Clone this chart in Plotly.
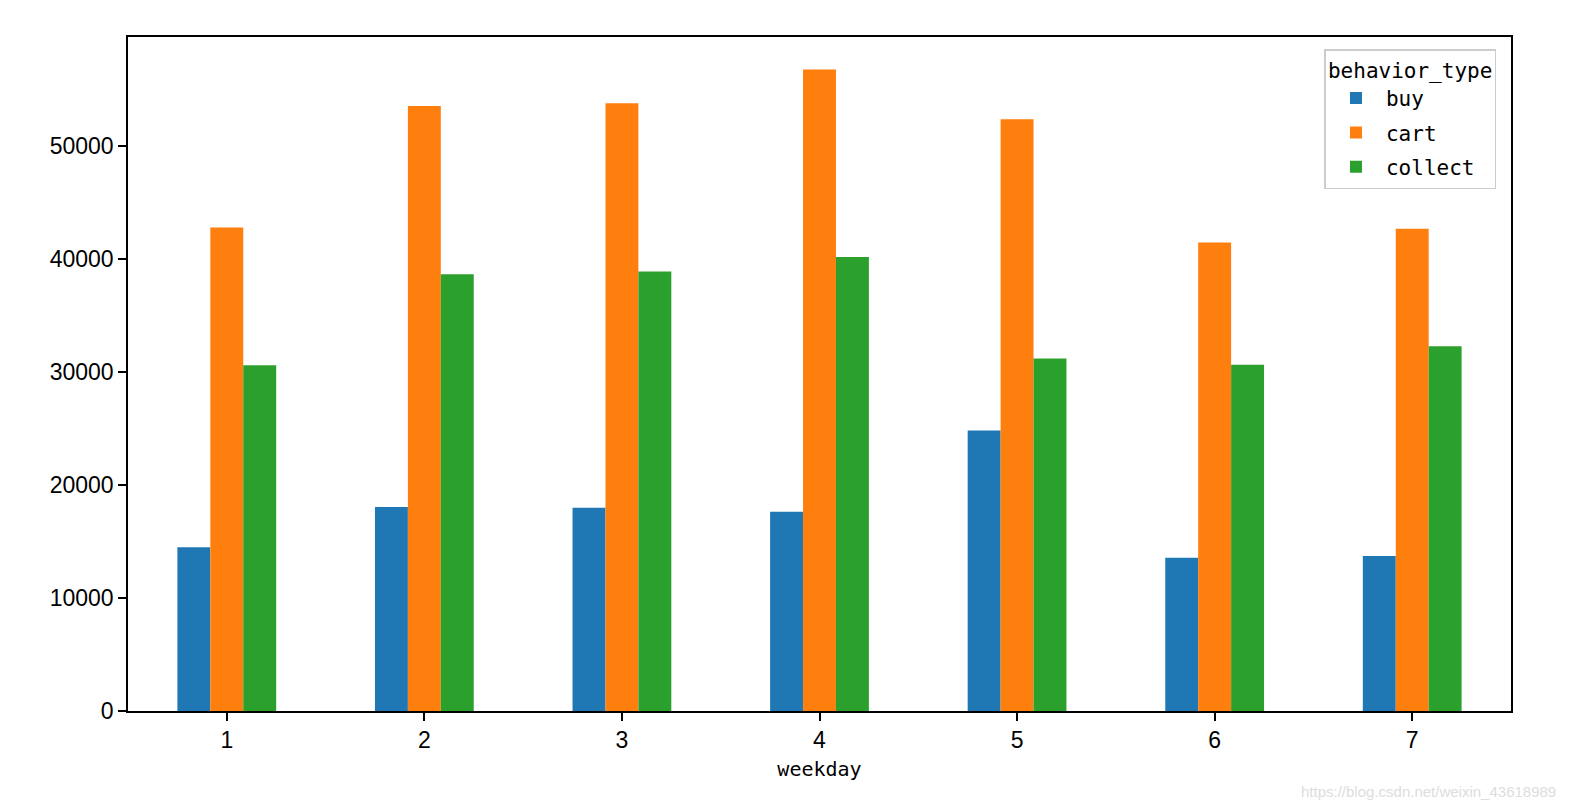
import plotly.graph_objects as go

weekday = [1, 2, 3, 4, 5, 6, 7]
buy = [14500, 18050, 17990, 17640, 24840, 13570, 13720]
cart = [42800, 53570, 53800, 56800, 52390, 41480, 42700]
collect = [30600, 38670, 38900, 40200, 31200, 30650, 32300]
series_names = ["buy", "cart", "collect"]
colors = ["#1f77b4", "#ff7f0e", "#2ca02c"]

fig = go.Figure()
for name, vals, col in zip(series_names, [buy, cart, collect], colors):
    fig.add_trace(go.Bar(x=weekday, y=vals, name=name, legendgroup=name,
                         marker=dict(color=col, line=dict(width=0))))

mono = "DejaVu Sans Mono, Liberation Mono, monospace"
sans = "Liberation Sans, Arial, sans-serif"

fig.update_layout(
    width=1580, height=810,
    margin=dict(l=128, r=69, t=37, b=99),
    paper_bgcolor="white", plot_bgcolor="white",
    barmode="group", bargap=0.5, bargroupgap=0,
    font=dict(family=sans, size=22, color="black"),
    xaxis=dict(
        range=[0.5, 7.5], tickmode="array", tickvals=weekday,
        ticktext=[str(d) for d in weekday],
        showline=True, linecolor="black", linewidth=1.5, mirror=True,
        ticks="outside", ticklen=8, tickwidth=1.5, tickcolor="black",
        showgrid=False, zeroline=False,
        tickfont=dict(family=sans, size=23),
        title=dict(text="weekday", font=dict(family=mono, size=20), standoff=10),
    ),
    yaxis=dict(
        range=[0, 59670], tickmode="array",
        tickvals=[0, 10000, 20000, 30000, 40000, 50000],
        ticktext=["0", "10000", "20000", "30000", "40000", "50000"],
        showline=True, linecolor="black", linewidth=1.5, mirror=True,
        ticks="outside", ticklen=8, tickwidth=1.5, tickcolor="black",
        showgrid=False, zeroline=False,
        tickfont=dict(family=sans, size=23),
    ),
    legend=dict(
        title=dict(text="behavior_type", font=dict(family=mono, size=21), side="top"),
        font=dict(family=mono, size=21),
        x=0.9895, xanchor="right", y=0.982, yanchor="top",
        bordercolor="#cccccc", borderwidth=1.5, bgcolor="rgba(255,255,255,0.8)",
        itemwidth=50, tracegroupgap=4,
    ),
    annotations=[
        dict(text="https://blog.csdn.net/weixin_43618989", xref="paper", yref="paper",
             x=1.0, xanchor="left", y=0, yanchor="top", xshift=-212, yshift=-70,
             showarrow=False, font=dict(family=sans, size=15, color="#dddddd"))
    ],
)

fig.write_html("out.html")
